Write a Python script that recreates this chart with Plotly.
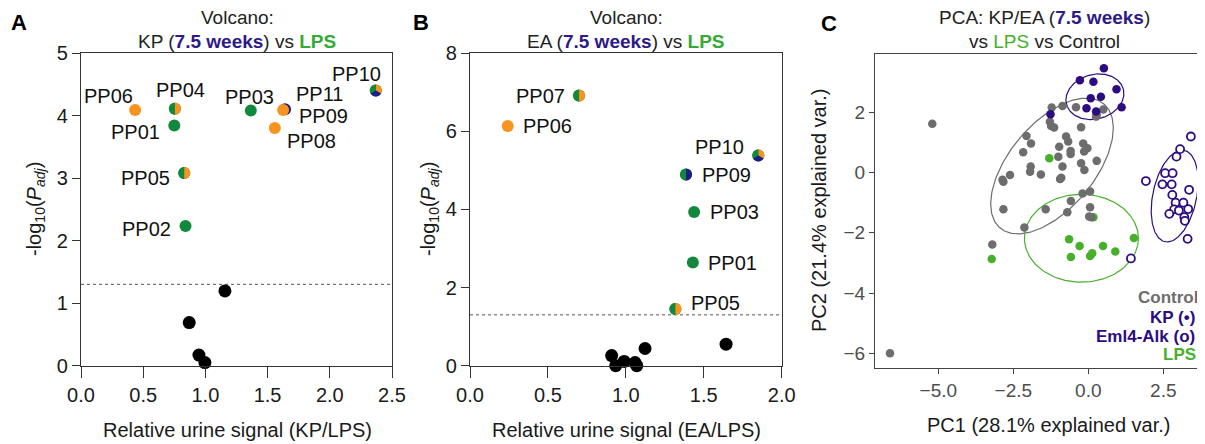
import numpy as np
import plotly.graph_objects as go

W, H = 1205, 444
OFF = 8  # page body margin of the html page

# ---------------- Panel A: Volcano KP (7.5 weeks) vs LPS ----------------
a_labels = ["PP01", "PP02", "PP03", "PP04", "PP05", "PP06", "PP08", "PP09", "PP10", "PP11"]
a_fc = [0.75, 0.84, 1.365, 0.755, 0.83, 0.435, 1.558, 1.64, 2.37, 1.625]
a_nlp = [3.84, 2.235, 4.08, 4.11, 3.08, 4.09, 3.80, 4.10, 4.40, 4.09]
a_sig = ["G", "G", "G", "GO", "GO", "O", "O", "N", "GON", "O"]
a_ns_fc = [0.87, 0.948, 0.996, 1.157]
a_ns_nlp = [0.69, 0.17, 0.05, 1.195]

# ---------------- Panel B: Volcano EA (7.5 weeks) vs LPS ----------------
b_labels = ["PP01", "PP03", "PP05", "PP06", "PP07", "PP09", "PP10"]
b_fc = [1.43, 1.438, 1.318, 0.242, 0.70, 1.386, 1.85]
b_nlp = [2.64, 3.93, 1.45, 6.13, 6.91, 4.89, 5.38]
b_sig = ["G", "G", "GO", "O", "GO", "GN", "GON"]
b_ns_fc = [0.909, 0.935, 0.989, 1.059, 1.07, 1.123, 1.643]
b_ns_nlp = [0.26, 0.0, 0.11, 0.08, 0.0, 0.44, 0.55]

alpha = 0.05

# ---------------- Panel C: PCA ----------------
ctrl_pc1 = [-6.61, -5.2, -3.2, -2.13, -2.83, -2.86, -2.83, -2.61, -2.17, -2.06, -1.91, -1.92,
            -1.94, -1.58, -1.42, -1.22, -1.28, -1.24, -1.14, -0.86, -0.41, 0.5, 0.28, -0.24,
            -0.74, -0.67, -0.97, -1.0, -0.59, -0.59, -0.86, -0.94, -0.90, -0.17, -0.03, -0.14,
            0.28, -0.24, -0.13, -0.58, -0.7, -0.19, 0.06, 0.06, 0.03, 0.10, 0.26]
ctrl_pc2 = [-6.0, 1.62, -2.39, -1.82, -1.22, -0.24, -0.30, -0.08, 0.68, 1.22, 0.97, 0.2,
            0.03, -0.06, -1.22, 2.16, 1.69, 1.55, 1.50, 2.21, 2.17, 2.10, 1.92, 1.51,
            1.2, 1.03, 0.86, 0.53, 0.72, 0.62, 0.2, -0.21, -0.17, 0.97, 0.81, 0.70,
            0.39, 0.31, 0.09, -0.94, -1.32, -0.69, -0.63, -1.15, -1.46, -1.48, 1.86]
kp_pc1 = [0.52, -0.28, 0.17, 0.94, 0.08, 0.42, -0.06, 0.26, 1.11, -1.26]
kp_pc2 = [3.47, 3.07, 3.02, 2.77, 2.47, 2.52, 2.14, 2.03, 2.17, 1.94]
ea_pc1 = [3.42, 3.06, 2.94, 1.92, 2.56, 2.81, 2.47, 2.78, 3.36, 2.80, 2.91, 3.17, 2.86,
          3.02, 3.33, 2.70, 3.20, 3.22, 3.31, 1.42]
ea_pc2 = [1.2, 0.78, 0.53, -0.28, -0.02, -0.02, -0.39, -0.39, -0.57, -0.74, -1.0, -1.0, -1.22,
          -1.26, -1.21, -1.37, -1.48, -1.60, -2.2, -2.85]
lps_pc1 = [-3.22, -1.3, 0.17, -0.64, -0.29, -0.58, 0.06, 0.13, 0.49, 0.9, 1.52]
lps_pc2 = [-2.87, 0.48, -1.48, -2.21, -2.44, -2.8, -2.77, -2.68, -2.44, -2.62, -2.17]

ell_groups = ["Control", "KP", "Eml4-Alk", "LPS"]
ell_cx = [-1.21, 0.22, 2.88, -0.23]
ell_cy = [0.22, 2.52, -0.78, -2.18]
ell_a = [2.69, 0.98, 1.55, 1.90]
ell_b = [1.42, 0.74, 0.73, 1.46]
ell_ang = [50, 15, 78, 0]

# ---------------- styles ----------------
FONT = "Liberation Sans, Arial, Helvetica, sans-serif"
COL = {"G": "#12883D", "O": "#F7931E", "N": "#1D1D8A"}
WEDGES = {
    "GO": [("G", 90, 270), ("O", -90, 90)],
    "GN": [("G", 90, 270), ("N", -90, 90)],
    "GON": [("O", -30, 90), ("G", 90, 210), ("N", 210, 330)],
}
C_GREY = "#6D6D6D"
C_NAVY = "#2C0C80"
C_LGREEN = "#46B02B"
W_NAVY = "#2E1A87"
T_GREEN = "#37A935"

# label placement: (xanchor, x shift px, y shift px; positive y = down)
a_lab_off = {"PP01": ("right", -12, 6), "PP02": ("right", -13, 3), "PP03": ("center", -1, -14),
             "PP04": ("center", 6, -19), "PP05": ("right", -12, 5), "PP06": ("right", 0, -14),
             "PP08": ("left", 10, 13), "PP09": ("left", 12, 7), "PP10": ("right", 7, -17),
             "PP11": ("left", 11, -16)}
b_lab_off = {"PP01": ("left", 13, 0), "PP03": ("left", 14, 0), "PP05": ("left", 14, -6),
             "PP06": ("left", 13, 0), "PP07": ("right", -12, 0), "PP09": ("left", 14, 0),
             "PP10": ("right", -12, -8)}

MS = 12
R = MS / 2.0


def px(v):
    return (v - OFF) / W


def py(v):
    return 1 - (v - OFF) / H


def wedge_path(a0, a1, r, n=20):
    t = np.radians(np.linspace(a0, a1, n))
    parts = ["M0,0"] + ["L%.2f,%.2f" % (r * np.cos(tt), r * np.sin(tt)) for tt in t] + ["Z"]
    return " ".join(parts)


fig = go.Figure()
shapes = []
annotations = []


def volcano(xr, yr, labels, fc, nlp, sig, ns_fc, ns_nlp, offs, xmax):
    fig.add_trace(go.Scatter(x=ns_fc, y=ns_nlp, xaxis=xr, yaxis=yr, mode="markers",
                             marker=dict(size=13, color="black"), cliponaxis=False,
                             showlegend=False, hoverinfo="skip"))
    fig.add_trace(go.Scatter(x=fc, y=nlp, xaxis=xr, yaxis=yr, mode="markers",
                             text=labels, hoverinfo="text",
                             marker=dict(size=MS, color=[COL[s[0]] for s in sig]),
                             cliponaxis=False, showlegend=False))
    for x, y, s, lab in zip(fc, nlp, sig, labels):
        if len(s) > 1:
            for c, a0, a1 in WEDGES[s]:
                shapes.append(dict(type="path", xref=xr, yref=yr, xsizemode="pixel",
                                   ysizemode="pixel", xanchor=x, yanchor=y,
                                   path=wedge_path(a0, a1, R), fillcolor=COL[c],
                                   line=dict(width=0), layer="above"))
        xa, dx, dy = offs[lab]
        annotations.append(dict(text=lab, x=x, y=y, xref=xr, yref=yr, xanchor=xa,
                                yanchor="middle", xshift=dx, yshift=-dy, showarrow=False,
                                font=dict(size=20, color="#111", family=FONT)))
    thr = -np.log10(alpha)
    shapes.append(dict(type="line", xref=xr, yref=yr, x0=0, x1=xmax, y0=thr, y1=thr,
                       line=dict(color="#555", width=1, dash="dot"), layer="below"))


volcano("x", "y", a_labels, a_fc, a_nlp, a_sig, a_ns_fc, a_ns_nlp, a_lab_off, 2.5)
volcano("x2", "y2", b_labels, b_fc, b_nlp, b_sig, b_ns_fc, b_ns_nlp, b_lab_off, 2.0)

# PCA ellipses
ell_cols = [C_GREY, C_NAVY, C_NAVY, C_LGREEN]
t = np.linspace(0, 2 * np.pi, 200)
for g, cx, cy, a, b, ang, col in zip(ell_groups, ell_cx, ell_cy, ell_a, ell_b, ell_ang, ell_cols):
    th = np.radians(ang)
    ex = cx + a * np.cos(t) * np.cos(th) - b * np.sin(t) * np.sin(th)
    ey = cy + a * np.cos(t) * np.sin(th) + b * np.sin(t) * np.cos(th)
    fig.add_trace(go.Scatter(x=ex, y=ey, xaxis="x3", yaxis="y3", mode="lines",
                             line=dict(color=col, width=1.2), showlegend=False,
                             hoverinfo="skip"))

fig.add_trace(go.Scatter(x=lps_pc1, y=lps_pc2, xaxis="x3", yaxis="y3", mode="markers",
                         marker=dict(size=8.5, color=C_LGREEN), showlegend=False))
fig.add_trace(go.Scatter(x=ctrl_pc1, y=ctrl_pc2, xaxis="x3", yaxis="y3", mode="markers",
                         marker=dict(size=8.5, color=C_GREY), showlegend=False))
fig.add_trace(go.Scatter(x=kp_pc1, y=kp_pc2, xaxis="x3", yaxis="y3", mode="markers",
                         marker=dict(size=8.5, color=C_NAVY), showlegend=False))
fig.add_trace(go.Scatter(x=ea_pc1, y=ea_pc2, xaxis="x3", yaxis="y3", mode="markers",
                         marker=dict(size=8, color="white", line=dict(color=C_NAVY, width=1.8)),
                         showlegend=False))

# ---------------- axes ----------------
ax_common = dict(showline=True, linecolor="#333", linewidth=1.4, mirror=True, ticks="outside",
                 tickwidth=1.4, tickcolor="#333", showgrid=False, zeroline=False,
                 automargin=False, tickfont=dict(size=20, color="#1a1a1a", family=FONT))
yd_ab = [py(365.7), py(53)]
fig.update_layout(
    xaxis=dict(domain=[px(81), px(392)], range=[0, 2.5], tickvals=[0, 0.5, 1, 1.5, 2, 2.5],
               tickformat=".1f", ticklen=11, anchor="y", **ax_common),
    yaxis=dict(domain=yd_ab, range=[0, 5], tickvals=[0, 1, 2, 3, 4, 5], ticklen=8,
               anchor="x", **ax_common),
    xaxis2=dict(domain=[px(470), px(781.7)], range=[0, 2.0], tickvals=[0, 0.5, 1, 1.5, 2],
                tickformat=".1f", ticklen=11, anchor="y2", **ax_common),
    yaxis2=dict(domain=yd_ab, range=[0, 8], tickvals=[0, 2, 4, 6, 8], ticklen=8,
                anchor="x2", **ax_common),
    xaxis3=dict(domain=[px(875), 1.0], range=[-7.11, (1205 + OFF - 1088.3) / 30.0],
                tickvals=[-5, -2.5, 0, 2.5],
                ticktext=["\u22125.0", "\u22122.5", "0.0", "2.5"], anchor="y3",
                showline=True, linecolor="#444", linewidth=1.3, mirror=True, ticks="outside",
                ticklen=5, tickwidth=1.2, tickcolor="#444", showgrid=False, zeroline=False,
                automargin=False, tickfont=dict(size=19, color="#4D4D4D", family=FONT)),
    yaxis3=dict(domain=[py(368.3), py(54)], range=[-6.5, 3.94], tickvals=[-6, -4, -2, 0, 2],
                ticktext=["\u22126", "\u22124", "\u22122", "0", "2"], anchor="x3",
                showline=True, linecolor="#444", linewidth=1.3, ticks="outside",
                ticklen=5, tickwidth=1.2, tickcolor="#444", showgrid=False, zeroline=False,
                automargin=False, tickfont=dict(size=19, color="#4D4D4D", family=FONT)),
)


def ann(text, x, y, size, color="#1a1a1a", xanchor="center", angle=0, bold=False):
    if bold:
        text = "<b>" + text + "</b>"
    annotations.append(dict(text=text, x=px(x), y=py(y), xref="paper", yref="paper",
                            xanchor=xanchor, yanchor="middle", showarrow=False,
                            textangle=angle, font=dict(size=size, color=color, family=FONT)))


wk = "(<b><span style='color:%s'>7.5 weeks</span></b>)" % W_NAVY
# panel letters
ann("A", 19, 22, 22, "#000", bold=True)
ann("B", 421, 22, 22, "#000", bold=True)
ann("C", 829, 24, 22, "#000", bold=True)
# titles
ann("Volcano:", 237, 18, 19, "#222")
ann("KP %s vs <b><span style='color:%s'>LPS</span></b>" % (wk, T_GREEN), 237, 41, 19, "#222")
ann("Volcano:", 626, 18, 19, "#222")
ann("EA %s vs <b><span style='color:%s'>LPS</span></b>" % (wk, T_GREEN), 626, 41, 19, "#222")
ann("PCA: KP/EA %s" % wk, 1044, 18, 19, "#222")
ann("vs <span style='color:%s'>LPS</span> vs Control" % C_LGREEN, 1044, 41, 19, "#222")
# axis titles
ylab = "-log<sub>10</sub>(<i>P</i><sub><i>adj</i></sub>)"
ann(ylab, 36, 209, 20, "#1a1a1a", angle=-90)
ann(ylab, 430, 209, 20, "#1a1a1a", angle=-90)
ann("Relative urine signal (KP/LPS)", 237, 430, 20)
ann("Relative urine signal (EA/LPS)", 626, 430, 20)
ann("PC1 (28.1% explained var.)", 1048, 425, 20)
ann("PC2 (21.4% explained var.)", 819, 211, 20, angle=-90)
# PCA group legend
ann("Control", 1200, 297, 17, C_GREY, xanchor="right", bold=True)
ann("KP (\u2022)", 1197, 317, 17, C_NAVY, xanchor="right", bold=True)
ann("Eml4-Alk (o)", 1197, 336, 17, C_NAVY, xanchor="right", bold=True)
ann("LPS", 1198, 354, 17, C_LGREEN, xanchor="right", bold=True)

fig.update_layout(width=W, height=H,
                  margin=dict(l=0, r=0, t=0, b=0, pad=0, autoexpand=False),
                  paper_bgcolor="white", plot_bgcolor="white", showlegend=False,
                  font=dict(family=FONT), shapes=shapes, annotations=annotations)

fig.write_html("out.html")
